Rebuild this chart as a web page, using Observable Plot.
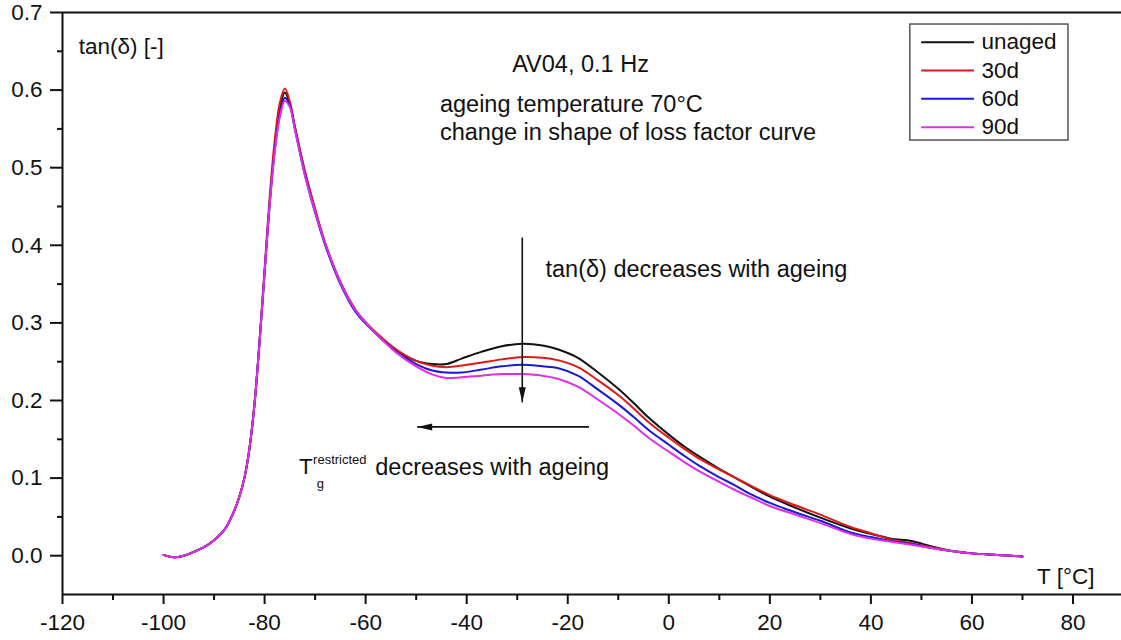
<!DOCTYPE html>
<html><head><meta charset="utf-8">
<script src="https://cdn.jsdelivr.net/npm/d3@7"></script>
<script src="https://cdn.jsdelivr.net/npm/@observablehq/plot@0.6"></script>
<style>body{margin:0;background:#fff} svg{display:block}</style>
</head><body><div id="chart"></div>
<script>
// ---- data ----
const temps = [-100,-98,-96,-94,-92,-90,-88,-87,-86,-85,-84,-83,-82,-81,-80,-79,-78,-77,-76,-75,-74,-72,-70,-68,-65,-62,-60,-57,-54,-50,-47,-44,-41,-37,-33,-29,-25,-22,-18,-14,-10,-7,-4,0,3,6,10,13,16,20,25,30,36,40,44,48,52,56,60,65,70];
const unaged = [0.001,-0.002,0.000,0.005,0.011,0.020,0.033,0.044,0.058,0.076,0.100,0.138,0.195,0.275,0.365,0.455,0.525,0.575,0.597,0.582,0.552,0.494,0.445,0.402,0.352,0.316,0.300,0.281,0.265,0.251,0.247,0.247,0.254,0.263,0.270,0.273,0.271,0.266,0.255,0.236,0.215,0.197,0.178,0.156,0.141,0.128,0.112,0.101,0.090,0.076,0.062,0.049,0.035,0.028,0.022,0.019,0.012,0.006,0.003,0.001,-0.001];
const aged30 = [0.001,-0.002,0.000,0.005,0.011,0.020,0.033,0.044,0.058,0.076,0.100,0.138,0.196,0.278,0.370,0.462,0.535,0.583,0.602,0.585,0.553,0.495,0.447,0.403,0.353,0.317,0.301,0.282,0.266,0.251,0.245,0.243,0.245,0.249,0.253,0.256,0.255,0.252,0.243,0.226,0.207,0.190,0.172,0.152,0.138,0.125,0.111,0.101,0.091,0.078,0.065,0.053,0.037,0.029,0.021,0.016,0.011,0.006,0.003,0.001,-0.001];
const aged60 = [0.001,-0.002,0.000,0.005,0.011,0.020,0.033,0.044,0.058,0.076,0.100,0.138,0.195,0.275,0.365,0.452,0.522,0.568,0.590,0.580,0.550,0.490,0.442,0.400,0.350,0.314,0.299,0.280,0.263,0.247,0.239,0.236,0.236,0.240,0.244,0.246,0.244,0.242,0.232,0.214,0.195,0.179,0.162,0.143,0.129,0.116,0.101,0.091,0.080,0.068,0.056,0.045,0.030,0.024,0.019,0.015,0.010,0.006,0.003,0.001,-0.001];
const aged90 = [0.001,-0.002,0.000,0.005,0.011,0.020,0.033,0.044,0.058,0.076,0.100,0.138,0.195,0.275,0.365,0.452,0.520,0.565,0.586,0.578,0.549,0.490,0.443,0.402,0.352,0.316,0.300,0.280,0.262,0.244,0.234,0.229,0.230,0.232,0.234,0.234,0.232,0.228,0.218,0.201,0.183,0.168,0.152,0.134,0.121,0.109,0.095,0.085,0.076,0.064,0.053,0.042,0.028,0.022,0.018,0.014,0.010,0.006,0.003,0.001,-0.001];
const seriesNames = ["unaged","30d","60d","90d"];
const seriesValues = [unaged, aged30, aged60, aged90];
const seriesColors = ["#111111","#e01818","#1a1ad2","#e02ee6"];
const xMajorTicks = [-120,-100,-80,-60,-40,-20,0,20,40,60,80];
const xMinorTicks = [-110,-90,-70,-50,-30,-10,10,30,50,70];
const yMajorTicks = [0,0.1,0.2,0.3,0.4,0.5,0.6,0.7];
const yMinorTicks = [0.05,0.15,0.25,0.35,0.45,0.55,0.65];
const noteText = ["tan(δ) [-]","AV04, 0.1 Hz","ageing temperature 70°C","change in shape of loss factor curve","tan(δ) decreases with ageing","T","decreases with ageing","T [°C]"];
const noteX = [-116.8,-31.0,-45.3,-45.3,-24.4,-73.2,-58.1,72.9];
const noteY = [0.656,0.6325,0.581,0.545,0.369,0.114,0.114,-0.027];
const noteSize = [22.5,23.5,23.5,23.5,23.5,22.5,23.5,22.5];
const smallText = ["restricted","g"];
const smallX = [-70.4,-69.7];
const smallY = [0.124,0.093];
// arrows: tail -> tip
const arrowTails = [[-29.0,0.410],[-15.8,0.166]];
const arrowTips = [[-29.0,0.1976],[-49.8,0.166]];
const arrowRotate = [0,90];

// ---- build tables ----
const series = seriesNames.map((name,k) => temps.map((t,i) => ({T:t, v:seriesValues[k][i], name})));
const notes = noteText.map((t,i)=>({text:t, x:noteX[i], y:noteY[i], size:noteSize[i]}));
const smalls = smallText.map((t,i)=>({text:t, x:smallX[i], y:smallY[i]}));
const arrows = arrowTails.map((a,i)=>({x1:a[0], y1:a[1], x2:arrowTips[i][0], y2:arrowTips[i][1], r:arrowRotate[i]}));
const legendBox = {x1:47.8, x2:79.1, y1:0.6845, y2:0.535};
const legendRows = seriesNames.map((n,i)=>({name:n, color:seriesColors[i], y:0.6617 - i*0.0365}));
const headSymbol = {draw(ctx){ ctx.moveTo(0,0); ctx.lineTo(-3.5,-15); ctx.lineTo(3.5,-15); ctx.closePath(); }};
const FS = 22.5;

const marks = [];
series.forEach((s,k) => marks.push(Plot.line(s, {x:"T", y:"v", stroke:seriesColors[k], strokeWidth:2, curve:"catmull-rom"})));
marks.push(
  Plot.ruleY([0.7], {strokeWidth:2}),
  Plot.ruleY([-0.05], {strokeWidth:2}),
  Plot.ruleX([-120], {strokeWidth:2}),
  Plot.axisX({ticks:xMajorTicks, tickSize:10, tickPadding:10, tickFormat:d=>String(d), fontSize:FS, label:null, strokeWidth:2}),
  Plot.axisX({ticks:xMinorTicks, tickSize:6, tickFormat:()=>"", label:null, strokeWidth:2}),
  Plot.axisY({ticks:yMajorTicks, tickSize:12, tickPadding:8, tickFormat:d=>d.toFixed(1), fontSize:FS, label:null, strokeWidth:2}),
  Plot.axisY({ticks:yMinorTicks, tickSize:5, tickFormat:()=>"", label:null, strokeWidth:2})
);
notes.forEach(n => marks.push(Plot.text([n], {x:"x", y:"y", text:"text", textAnchor:"start", fontSize:n.size, fill:"#111"})));
marks.push(
  Plot.text(smalls, {x:"x", y:"y", text:"text", textAnchor:"start", fontSize:13, fill:"#111"}),
  Plot.link(arrows, {x1:"x1", y1:"y1", x2:"x2", y2:"y2", stroke:"#111", strokeWidth:1.6}),
  Plot.dot(arrows, {x:"x2", y:"y2", symbol:headSymbol, rotate:"r", fill:"#111", stroke:"none"}),
  Plot.rect([legendBox], {x1:"x1", x2:"x2", y1:"y1", y2:"y2", fill:"white", stroke:"#555", strokeWidth:1.5})
);
legendRows.forEach(r => marks.push(
  Plot.link([r], {x1:()=>49.95, x2:()=>60.4, y1:"y", y2:"y", stroke:r.color, strokeWidth:2})
));
marks.push(Plot.text(legendRows, {x:()=>61.9, y:"y", text:"name", textAnchor:"start", fontSize:FS, fill:"#111"}));

const chart = Plot.plot({
  width:1121, height:640,
  marginLeft:62, marginRight:0, marginTop:12, marginBottom:46,
  x:{domain:[-120,89.6], label:null},
  y:{domain:[-0.05,0.7], label:null},
  style:{fontFamily:"'Liberation Sans', Arial, sans-serif", fontSize:"22.5px", color:"#111", background:"white"},
  marks
});
document.getElementById("chart").appendChild(chart);
</script>
</body></html>
